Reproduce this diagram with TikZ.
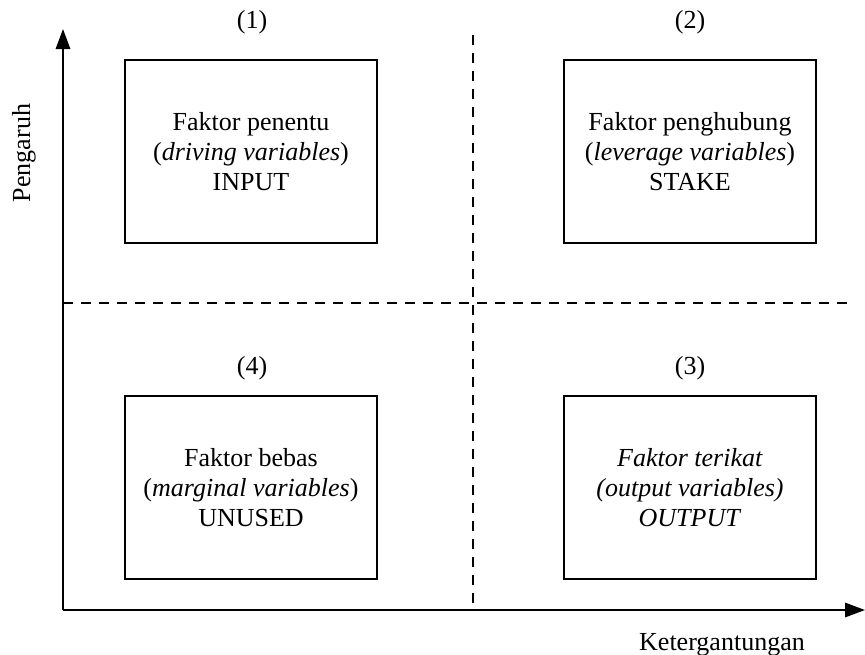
\documentclass[tikz,border=0pt]{standalone}
\usepackage{fontspec}
\setmainfont{Liberation Serif}
\usetikzlibrary{arrows.meta}

\tikzset{
  kotak/.style={draw, line width=0.8pt, minimum width=6.3cm, minimum height=4.575cm,
    align=center, inner sep=0pt, font=\fontsize{18.5}{21.6}\selectfont},
  label/.style={font=\fontsize{18.5}{21.6}\selectfont, inner sep=0pt},
  sumbu/.style={line width=1.3pt, -{Triangle[length=0.5cm, width=0.36cm]}},
  batas/.style={line width=0.8pt, dash pattern=on 0.25cm off 0.2cm}
}

\begin{document}
\begin{tikzpicture}[x=0.025cm, y=-0.025cm]

  \useasboundingbox (0,0) rectangle (865,654);

  % titik sumbu
  \coordinate (o) at (63,610);
  \coordinate (ytop) at (63,29);
  \coordinate (xend) at (865,610);

  % garis batas kuadran
  \coordinate (vtop) at (473,35);
  \coordinate (vbot) at (473,610);
  \coordinate (hleft) at (63,303);
  \coordinate (hright) at (850,303);

  \draw[batas] (vtop) -- (vbot);
  \draw[batas] (hleft) -- (hright);

  \draw[sumbu] (o) -- (ytop);
  \draw[sumbu] (o) -- (xend);

  \node[label, rotate=90] (pengaruh) at (24,153) {Pengaruh};
  \node[label, anchor=base] (ketergantungan) at (722,650) {Ketergantungan};

  % nomor kuadran
  \node[label] (n1) at (252,22) {(1)};
  \node[label] (n2) at (690,22) {(2)};
  \node[label] (n4) at (252,368) {(4)};
  \node[label] (n3) at (690,368) {(3)};

  % kotak kuadran
  \node[kotak] (input) at (251,151.5) {Faktor penentu\\(\textit{driving variables})\\INPUT};
  \node[kotak] (stake) at (690,151.5) {Faktor penghubung\\(\textit{leverage variables})\\STAKE};
  \node[kotak] (unused) at (251,487.5) {Faktor bebas\\(\textit{marginal variables})\\UNUSED};
  \node[kotak] (output) at (690,487.5) {\textit{Faktor terikat}\\\textit{(output variables)}\\\textit{OUTPUT}};

%  \node[label] at (473,640) {};

\end{tikzpicture}
\end{document}
